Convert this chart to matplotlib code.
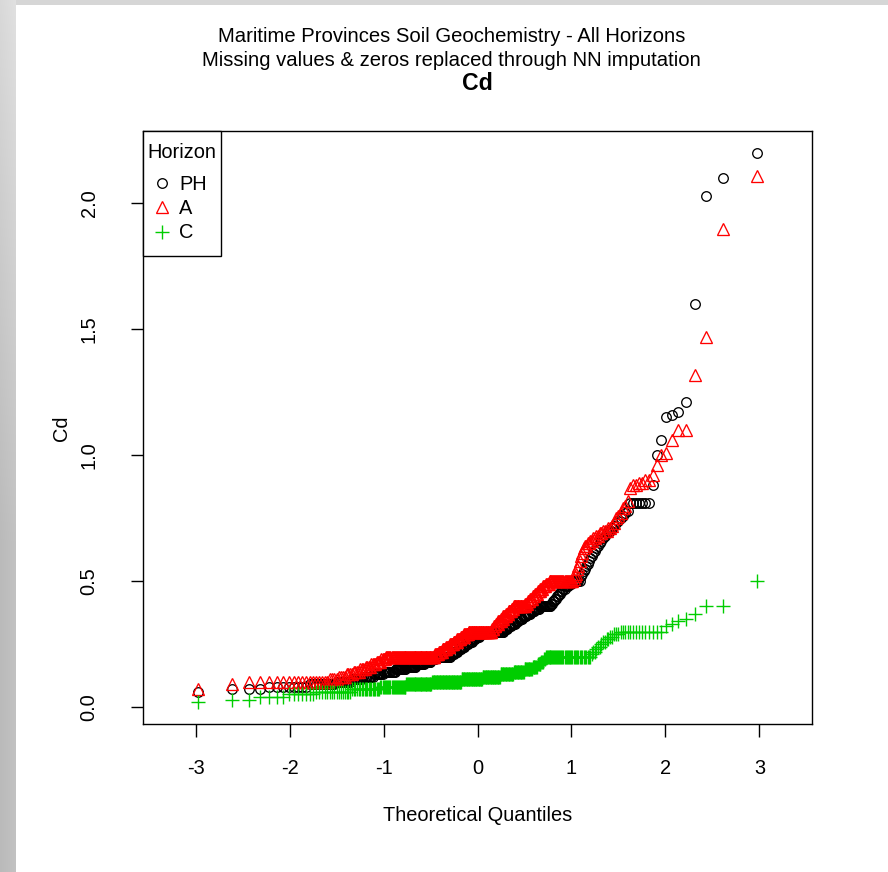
import numpy as np
import matplotlib
matplotlib.use("Agg")
import matplotlib.pyplot as plt
from matplotlib.patches import Rectangle
from statistics import NormalDist

# Cd concentrations per horizon, as sorted distinct values with their counts
horizons = ["PH", "A", "C"]

ph_values = [0.06, 0.07, 0.08, 0.09, 0.10, 0.11, 0.12, 0.13, 0.14, 0.15, 0.16, 0.17, 0.18, 0.19,
             0.20, 0.21, 0.22, 0.23, 0.24, 0.25, 0.26, 0.27, 0.28, 0.29,
             0.30, 0.31, 0.32, 0.33, 0.34, 0.35, 0.36, 0.37, 0.38, 0.39,
             0.40, 0.41, 0.42, 0.43, 0.44, 0.45, 0.46, 0.47, 0.48, 0.49,
             0.50, 0.52, 0.53, 0.54, 0.55, 0.56, 0.57, 0.58, 0.59, 0.60, 0.61, 0.62, 0.63, 0.64,
             0.65, 0.66, 0.67, 0.68, 0.69, 0.70, 0.71, 0.72, 0.73, 0.74, 0.75, 0.76, 0.77, 0.78,
             0.81, 0.88, 1.00, 1.06, 1.15, 1.16, 1.17, 1.21, 1.60, 2.03, 2.10, 2.20]
ph_counts = [1, 3, 8, 10, 8, 7, 8, 8, 11, 11, 11, 10, 8, 6,
             20, 5, 5, 5, 5, 5, 5, 5, 5, 5,
             30, 5, 5, 5, 5, 5, 5, 5, 5, 5,
             13, 2, 2, 2, 2, 2, 2, 2, 3, 3,
             7, 1, 1, 1, 1, 1, 1, 1, 1, 1, 1, 1, 1, 1,
             1, 1, 1, 1, 1, 2, 1, 1, 1, 1, 1, 1, 1, 1,
             7, 1, 1, 1, 1, 1, 1, 1, 1, 1, 1, 1]

a_values = [0.07, 0.09, 0.10, 0.11, 0.12, 0.13, 0.14, 0.15, 0.16, 0.17, 0.18, 0.19,
            0.20, 0.21, 0.22, 0.23, 0.24, 0.25, 0.26, 0.27, 0.28, 0.29,
            0.30, 0.31, 0.32, 0.33, 0.34, 0.35, 0.36, 0.37, 0.38, 0.39,
            0.40, 0.41, 0.42, 0.43, 0.44, 0.45, 0.46, 0.47, 0.48, 0.49,
            0.50, 0.51, 0.52, 0.53, 0.55, 0.56, 0.58, 0.60, 0.61, 0.63,
            0.64, 0.65, 0.66, 0.67, 0.68, 0.69, 0.70, 0.71, 0.72, 0.73,
            0.75, 0.76, 0.77, 0.79, 0.80, 0.82, 0.87, 0.88, 0.89, 0.90,
            0.92, 0.96, 1.00, 1.01, 1.06, 1.10, 1.32, 1.47, 1.90, 2.11]
a_counts = [1, 1, 17, 4, 4, 4, 4, 4, 4, 4, 4, 4,
            54, 5, 5, 5, 5, 5, 5, 5, 5, 6,
            33, 3, 3, 3, 4, 3, 4, 3, 4, 3,
            15, 3, 3, 3, 3, 3, 3, 3, 3, 4,
            23, 1, 1, 1, 1, 1, 1, 1, 1, 1,
            2, 2, 2, 2, 2, 2, 3, 2, 1, 1,
            1, 1, 1, 1, 1, 1, 1, 2, 2, 2,
            1, 1, 1, 1, 1, 2, 1, 1, 1, 1]

c_values = [0.02, 0.03, 0.04, 0.05, 0.06, 0.07, 0.08, 0.09, 0.10, 0.11, 0.12, 0.13, 0.14,
            0.15, 0.16, 0.17, 0.18, 0.19, 0.20,
            0.21, 0.22, 0.23, 0.24, 0.25, 0.26, 0.27, 0.28, 0.29,
            0.30, 0.32, 0.33, 0.34, 0.35, 0.37, 0.40, 0.50]
c_counts = [1, 2, 4, 7, 16, 20, 25, 30, 40, 30, 25, 18, 14,
            10, 6, 4, 3, 2, 41,
            1, 2, 1, 2, 1, 2, 2, 2, 3,
            14, 1, 1, 1, 1, 1, 2, 1]

x_ticks = [-3, -2, -1, 0, 1, 2, 3]
y_ticks = [0.0, 0.5, 1.0, 1.5, 2.0]
y_tick_labels = ["0.0", "0.5", "1.0", "1.5", "2.0"]

series_style = {
    "PH": dict(marker="o", color="black", ms=6.9, mew=0.95),
    "A": dict(marker="^", color="#ff0000", ms=8.9, mew=0.95),
    "C": dict(marker="+", color="#00cd00", ms=10.6, mew=1.0),
}
series_data = {
    "PH": (ph_values, ph_counts),
    "A": (a_values, a_counts),
    "C": (c_values, c_counts),
}


def ppoints(n):
    a = 3.0 / 8.0 if n <= 10 else 0.5
    return (np.arange(1, n + 1) - a) / (n + 1 - 2 * a)


def normal_quantiles(n):
    nd = NormalDist()
    return np.array([nd.inv_cdf(p) for p in ppoints(n)])


plt.rcParams["font.family"] = ["Liberation Sans", "DejaVu Sans"]
FS = 14.4

W, H = 888, 872
fig = plt.figure(figsize=(W / 100, H / 100), dpi=100)
fig.patch.set_facecolor("white")

# grey window frame: gradient strip on the left, thin band on top
strip_w = 16
rows = np.linspace(0, 1, H)[:, None]
shade = 0.85 - 0.12 * np.clip(rows * 1.6, 0, 1)
cols = np.linspace(0, 1, strip_w)[None, :]
shade = shade + 0.03 * cols
frame = np.dstack([shade * np.ones((H, strip_w))] * 3)
fig.figimage(frame, xo=0, yo=0, origin="upper", zorder=0)
top = np.full((5, W - strip_w, 3), 0.84)
fig.figimage(top, xo=strip_w, yo=H - 5, origin="upper", zorder=0)

left, right, ytop, ybot = 143, 812, 131, 724
ax = fig.add_axes([left / W, 1 - ybot / H, (right - left) / W, (ybot - ytop) / H])
ax.set_facecolor("white")

for name in horizons:
    vals, cnts = series_data[name]
    sample = np.sort(np.repeat(np.array(vals, dtype=float), cnts))
    theo = normal_quantiles(len(sample))
    st = series_style[name]
    ax.plot(theo, sample, linestyle="none", marker=st["marker"], ms=st["ms"],
            mfc="none", mec=st["color"], mew=st["mew"])

ax.set_xlim(-3.56, 3.56)
ax.set_ylim(-0.0672, 2.2872)
ax.set_xticks(x_ticks)
ax.set_xticklabels([str(t) for t in x_ticks])
ax.set_yticks(y_ticks)
ax.set_yticklabels(y_tick_labels, rotation=90, va="center")
for sp in ax.spines.values():
    sp.set_linewidth(1.0)
    sp.set_color("black")
ax.tick_params(axis="both", direction="out", length=9, width=1.0, colors="black",
               labelsize=FS)
ax.tick_params(axis="x", pad=16)
ax.tick_params(axis="y", pad=23)

TFS = 14.55
fig.text(451.5 / W, 1 - 36.5 / H, "Maritime Provinces Soil Geochemistry - All Horizons",
         ha="center", va="center", fontsize=TFS)
fig.text(451.5 / W, 1 - 60.5 / H, "Missing values & zeros replaced through NN imputation",
         ha="center", va="center", fontsize=TFS)
fig.text((left + right) / 2 / W, 1 - 83 / H, "Cd", ha="center", va="center",
         fontsize=FS * 1.15, fontweight="bold")
fig.text((left + right) / 2 / W, 1 - 815 / H, "Theoretical Quantiles",
         ha="center", va="center", fontsize=FS)
fig.text(62 / W, 1 - 428 / H, "Cd", ha="center", va="center", rotation=90, fontsize=FS)


# legend box in the top-left corner of the plot, placed in pixel units
def ax_frac(px, py):
    return (px - left) / (right - left), (ybot - py) / (ybot - ytop)


lx0, ly0 = ax_frac(143, 256)
lx1, ly1 = ax_frac(221, 131)
ax.add_patch(Rectangle((lx0, ly0), lx1 - lx0, ly1 - ly0, transform=ax.transAxes,
                       facecolor="white", edgecolor="black", linewidth=1.0,
                       zorder=5, clip_on=False))
tx, ty = ax_frac(147, 153)
ax.text(tx, ty, "Horizon", transform=ax.transAxes, ha="left", va="center",
        fontsize=FS, zorder=6)
for name, py in zip(horizons, [183, 207, 232]):
    mx, my = ax_frac(162, py)
    st = series_style[name]
    ax.plot([mx], [my], transform=ax.transAxes, linestyle="none", marker=st["marker"],
            ms=st["ms"], mfc="none", mec=st["color"], mew=st["mew"], zorder=6,
            clip_on=False)
    lx, ly = ax_frac(179, py + 1)
    ax.text(lx, ly, name, transform=ax.transAxes, ha="left", va="center",
            fontsize=FS, zorder=6)

fig.savefig("out.png", dpi=100)
